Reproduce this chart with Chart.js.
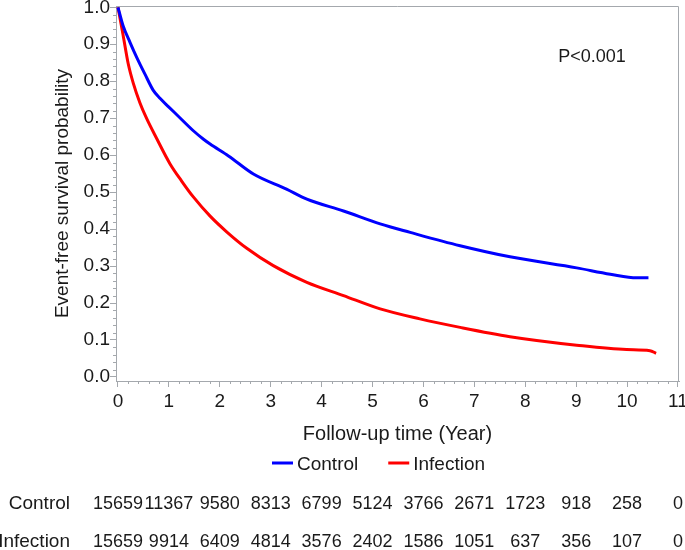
<!DOCTYPE html>
<html>
<head>
<meta charset="utf-8">
<script src="https://cdn.jsdelivr.net/npm/chart.js@4.4.1/dist/chart.umd.min.js"></script>
<style>
  html, body { margin: 0; padding: 0; background: #fff; }
</style>
</head>
<body>
<canvas id="kmChart" width="685" height="550"></canvas>
<script>
// Kaplan-Meier estimates
var controlTime = [0, 0.1, 0.24, 0.37, 0.53, 0.69, 0.83, 1.0, 1.15, 1.48, 1.68, 1.81, 2.17, 2.66, 3.31, 3.71, 4.43, 5.15, 5.74, 6.72, 7.7, 9.01, 9.67, 10.19, 10.42];
var controlSurv = [1.0, 0.95, 0.904, 0.864, 0.819, 0.776, 0.753, 0.73, 0.71, 0.666, 0.643, 0.63, 0.598, 0.549, 0.508, 0.481, 0.449, 0.414, 0.391, 0.355, 0.325, 0.295, 0.278, 0.268, 0.268];

var infectionTime = [0, 0.1, 0.2, 0.3, 0.43, 0.56, 0.76, 1.02, 1.25, 1.48, 1.81, 2.14, 2.53, 3.05, 3.71, 4.43, 5.15, 5.93, 6.72, 7.7, 9.01, 9.99, 10.45, 10.57];
var infectionSurv = [1.0, 0.925, 0.848, 0.795, 0.742, 0.7, 0.645, 0.577, 0.53, 0.487, 0.435, 0.392, 0.348, 0.301, 0.256, 0.22, 0.184, 0.157, 0.134, 0.109, 0.086, 0.074, 0.071, 0.064];

// number at risk table
var riskYears = [0, 1, 2, 3, 4, 5, 6, 7, 8, 9, 10, 11];
var controlAtRisk = [15659, 11367, 9580, 8313, 6799, 5124, 3766, 2671, 1723, 918, 258, 0];
var infectionAtRisk = [15659, 9914, 6409, 4814, 3576, 2402, 1586, 1051, 637, 356, 107, 0];

var yTicks = [0, 0.1, 0.2, 0.3, 0.4, 0.5, 0.6, 0.7, 0.8, 0.9, 1.0];
var pText = 'P<0.001';

var fontFamily = "'Liberation Sans', Arial, sans-serif";
var textColor = '#1a1a1a';
var axisColor = '#a4a8ad';

function toPoints(xs, ys) {
    return xs.map(function(x, i) { return {x: x, y: ys[i]}; });
}

var extras = {
    id: 'extras',
    afterDraw: function(chart) {
        var ctx = chart.ctx, xs = chart.scales.x, ys = chart.scales.y, a = chart.chartArea;
        ctx.save();
        ctx.strokeStyle = axisColor;
        ctx.lineWidth = 1;

        // top and right frame
        ctx.beginPath();
        ctx.moveTo(a.left, a.top + 0.5);
        ctx.lineTo(a.right - 0.5, a.top + 0.5);
        ctx.lineTo(a.right - 0.5, a.bottom);
        ctx.stroke();

        // minor ticks
        ctx.beginPath();
        for (var i = 1; i < 55; i++) {
            if (i % 5 === 0) continue;
            var px = Math.round(xs.getPixelForValue(i * 0.2)) + 0.5;
            ctx.moveTo(px, a.bottom);
            ctx.lineTo(px, a.bottom + 3);
        }
        for (var j = 1; j < 50; j++) {
            if (j % 5 === 0) continue;
            var py = Math.round(ys.getPixelForValue(j * 0.02)) + 0.5;
            ctx.moveTo(a.left, py);
            ctx.lineTo(a.left - 3, py);
        }
        ctx.stroke();

        ctx.fillStyle = textColor;
        ctx.font = '18px ' + fontFamily;
        ctx.textBaseline = 'middle';
        ctx.textAlign = 'center';
        ctx.fillText(pText, xs.getPixelForValue(9.31), ys.getPixelForValue(0.866));

        // legend
        ctx.font = '19px ' + fontFamily;
        ctx.textAlign = 'left';
        var lx = 272, ly = 465;
        chart.data.datasets.forEach(function(ds) {
            ctx.strokeStyle = ds.borderColor;
            ctx.lineWidth = 3;
            ctx.beginPath();
            ctx.moveTo(lx, ly - 2);
            ctx.lineTo(lx + 21, ly - 2);
            ctx.stroke();
            ctx.fillText(ds.label, lx + 25, ly);
            lx += 25 + ctx.measureText(ds.label).width + 30;
        });

        // number at risk
        var rows = [['Control', controlAtRisk, 504], ['Infection', infectionAtRisk, 542]];
        rows.forEach(function(r) {
            ctx.font = '19px ' + fontFamily;
            ctx.textAlign = 'right';
            ctx.fillText(r[0], 70, r[2]);
            ctx.font = '18px ' + fontFamily;
            ctx.textAlign = 'center';
            riskYears.forEach(function(yr, k) {
                ctx.fillText(String(r[1][k]), xs.getPixelForValue(yr), r[2]);
            });
        });
        ctx.restore();
    }
};

var ctx = document.getElementById('kmChart');
var kmChart = new Chart(ctx, {
    type: 'line',
    data: {
        datasets: [{
            label: 'Control',
            data: toPoints(controlTime, controlSurv),
            borderColor: '#0000ff',
            backgroundColor: '#0000ff',
            borderWidth: 3,
            pointRadius: 0,
            cubicInterpolationMode: 'monotone'
        }, {
            label: 'Infection',
            data: toPoints(infectionTime, infectionSurv),
            borderColor: '#ff0000',
            backgroundColor: '#ff0000',
            borderWidth: 3,
            pointRadius: 0,
            cubicInterpolationMode: 'monotone'
        }]
    },
    options: {
        responsive: false,
        animation: false,
        layout: { padding: { top: 6, right: 6, left: 0, bottom: 0 } },
        plugins: { legend: { display: false }, tooltip: { enabled: false } },
        scales: {
            x: {
                type: 'linear',
                min: -0.039,
                max: 11.02,
                afterBuildTicks: function(scale) {
                    scale.ticks = riskYears.map(function(v) { return {value: v}; });
                },
                afterFit: function(scale) {
                    scale.height = 169;
                    scale.paddingLeft = 0;
                    scale.paddingRight = 0;
                },
                grid: { drawOnChartArea: false, tickLength: 6, color: axisColor },
                border: { color: axisColor },
                ticks: {
                    maxRotation: 0,
                    autoSkip: false,
                    padding: 3,
                    color: textColor,
                    font: { family: fontFamily, size: 19 },
                    callback: function(v) { return String(v); }
                },
                title: {
                    display: true,
                    text: 'Follow-up time (Year)',
                    color: textColor,
                    font: { family: fontFamily, size: 20 },
                    padding: { top: 0, bottom: 104 }
                }
            },
            y: {
                min: -0.011,
                max: 1.0035,
                afterBuildTicks: function(scale) {
                    scale.ticks = yTicks.map(function(v) { return {value: v}; });
                },
                afterFit: function(scale) {
                    scale.width = 116;
                    scale.paddingTop = 0;
                    scale.paddingBottom = 0;
                },
                grid: { drawOnChartArea: false, tickLength: 6, color: axisColor },
                border: { color: axisColor },
                ticks: {
                    padding: 0,
                    color: textColor,
                    font: { family: fontFamily, size: 19 },
                    callback: function(v) { return v.toFixed(1); }
                },
                title: {
                    display: true,
                    text: 'Event-free survival probability',
                    color: textColor,
                    font: { family: fontFamily, size: 19 },
                    padding: { top: 51, bottom: 0 }
                }
            }
        }
    },
    plugins: [extras]
});
</script>
</body>
</html>
